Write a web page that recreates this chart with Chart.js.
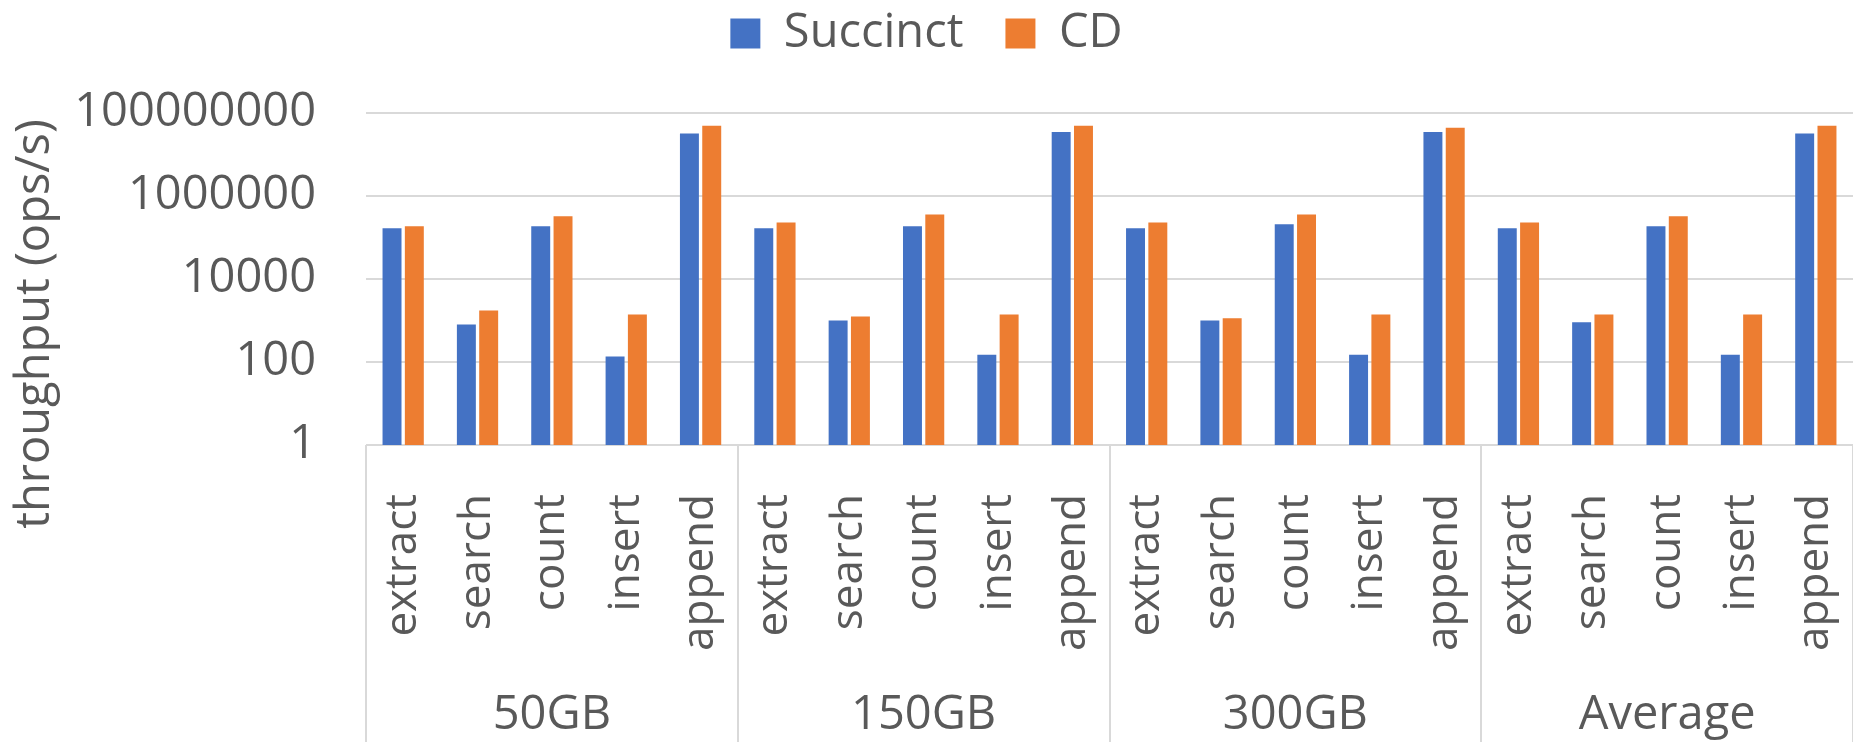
<!DOCTYPE html>
<html>
<head>
<meta charset="utf-8">
<script src="https://cdn.jsdelivr.net/npm/chart.js@4"></script>
<style>
  html, body { margin: 0; padding: 0; background: #fff; }
  #wrap { width: 1853px; height: 742px; }
</style>
</head>
<body>
<div id="wrap"><canvas id="throughputChart"></canvas></div>
<script>
const operations = ['extract', 'search', 'count', 'insert', 'append'];
const groups = ['50GB', '150GB', '300GB', 'Average'];
const categories = [
    'extract', 'search', 'count', 'insert', 'append',
    'extract', 'search', 'count', 'insert', 'append',
    'extract', 'search', 'count', 'insert', 'append',
    'extract', 'search', 'count', 'insert', 'append'
];
const succinct = [
    167000, 800, 186000, 135, 32000000,
    167000, 1000, 186000, 150, 35000000,
    167000, 1000, 210000, 150, 35000000,
    167000, 910, 186000, 150, 32000000
];
const cd = [
    187000, 1750, 325000, 1400, 49000000,
    230000, 1250, 360000, 1400, 49000000,
    230000, 1130, 360000, 1400, 44000000,
    230000, 1400, 325000, 1400, 49000000
];
const yTicks = [1, 100, 10000, 1000000, 100000000];
const yTitleText = 'throughput (ops/s)';

const textColor = '#595959';
const gridColor = '#d9d9d9';
Chart.defaults.font.family = "'Open Sans', sans-serif";
Chart.defaults.color = textColor;

// extra room under the legend
const legendSpace = {
    id: 'legendSpace',
    beforeInit(chart) {
        const fit = chart.legend.fit;
        chart.legend.fit = function() {
            fit.bind(chart.legend)();
            this.height += 46;
        };
    }
};

// vertical separators between the groups, under the plot
const groupLines = {
    id: 'groupLines',
    afterDraw(chart) {
        const x = chart.scales.x;
        const half = (x.getPixelForValue(1) - x.getPixelForValue(0)) / 2;
        const ctx = chart.ctx;
        ctx.save();
        ctx.strokeStyle = gridColor;
        ctx.lineWidth = 2;
        for (let g = 0; g <= groups.length; g++) {
            const px = Math.round(x.getPixelForValue(g * operations.length) - half);
            ctx.beginPath();
            ctx.moveTo(px, chart.chartArea.bottom);
            ctx.lineTo(px, chart.height);
            ctx.stroke();
        }
        ctx.restore();
    }
};

// y title sits a bit lower than the plot centre, like the original
const yTitle = {
    id: 'yTitle',
    afterDraw(chart) {
        const area = chart.chartArea;
        const ctx = chart.ctx;
        ctx.save();
        ctx.translate(36, (area.top + area.bottom) / 2 + 45);
        ctx.rotate(-Math.PI / 2);
        ctx.font = "47px 'Open Sans', sans-serif";
        ctx.fillStyle = textColor;
        ctx.textAlign = 'center';
        ctx.textBaseline = 'middle';
        ctx.fillText(yTitleText, 0, 0);
        ctx.restore();
    }
};

function noSidePadding(scale) {
    scale.paddingLeft = 0;
    scale.paddingRight = 0;
}

const ctx = document.getElementById('throughputChart').getContext('2d');
new Chart(ctx, {
    type: 'bar',
    data: {
        labels: categories,
        datasets: [{
            label: 'Succinct',
            data: succinct,
            backgroundColor: '#4472c4',
            borderWidth: 0
        }, {
            label: 'CD',
            data: cd,
            backgroundColor: '#ed7d31',
            borderWidth: 0
        }]
    },
    options: {
        responsive: true,
        maintainAspectRatio: false,
        animation: false,
        layout: { padding: { top: -32, left: 0, right: 0, bottom: 0 } },
        categoryPercentage: 0.6,
        barPercentage: 0.85,
        scales: {
            x: {
                grid: { display: false, drawTicks: false },
                border: { display: false },
                ticks: {
                    autoSkip: false,
                    maxRotation: 90,
                    minRotation: 90,
                    padding: 49,
                    font: { size: 44 }
                },
                afterFit(scale) {
                    noSidePadding(scale);
                    scale.height = 222;
                }
            },
            x2: {
                type: 'category',
                labels: groups,
                offset: true,
                grid: { display: false, drawTicks: false },
                border: { display: false },
                ticks: { padding: 20, font: { size: 47 } },
                afterFit(scale) {
                    noSidePadding(scale);
                    scale.height = 75;
                }
            },
            y: {
                type: 'logarithmic',
                min: 1,
                max: 100000000,
                grid: { color: gridColor, lineWidth: 2, drawTicks: false },
                border: { display: false },
                afterBuildTicks(scale) {
                    scale.ticks = yTicks.map(v => ({ value: v }));
                },
                ticks: {
                    padding: 50,
                    font: { size: 47 },
                    callback: v => String(v)
                },
                afterFit(scale) { scale.width = 366; }
            }
        },
        plugins: {
            legend: {
                position: 'top',
                labels: {
                    boxWidth: 30,
                    boxHeight: 30,
                    padding: 42,
                    font: { size: 47 }
                }
            },
            tooltip: { enabled: false }
        }
    },
    plugins: [legendSpace, groupLines, yTitle]
});
</script>
</body>
</html>
